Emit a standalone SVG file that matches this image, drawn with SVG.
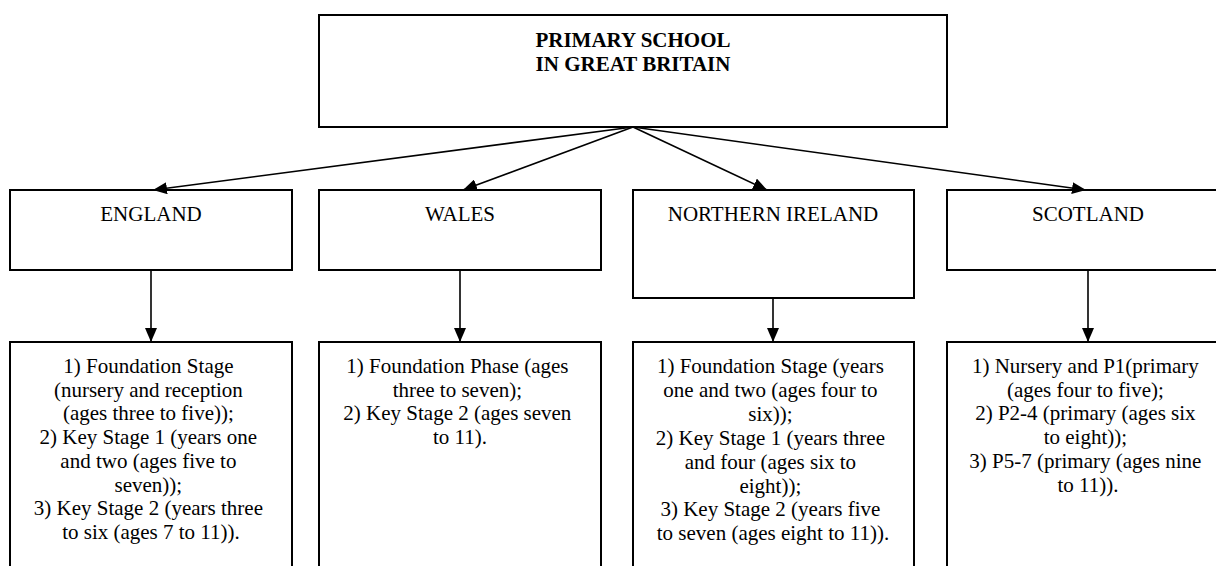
<svg xmlns="http://www.w3.org/2000/svg" width="1216" height="566" viewBox="0 0 1216 566">
<style>
.box{fill:#fff;stroke:#000;stroke-width:2}
.t{font-family:'Liberation Serif',Tinos,Times,'DejaVu Serif',serif;font-size:21px;fill:#000;text-anchor:middle}
.b{font-weight:bold}
.c{stroke:#000;stroke-width:1.6;fill:none;marker-end:url(#ah)}
</style>
<defs>
<marker id="ah" markerUnits="userSpaceOnUse" markerWidth="14" markerHeight="12" refX="14" refY="6" orient="auto">
<path d="M0,0 L14,6 L0,12 z" fill="#000"/>
</marker>
</defs>
<rect width="1216" height="566" fill="#fff"/>
<g id="root">
<rect class="box" x="319" y="15" width="628" height="112"/>
<text class="t b" x="633" y="47" font-family="Liberation Serif">PRIMARY SCHOOL</text>
<text class="t b" x="633" y="71" font-family="Liberation Serif">IN GREAT BRITAIN</text>
</g>
<g id="england">
<rect class="box" x="10" y="190" width="282" height="80"/>
<text class="t" x="151" y="221">ENGLAND</text>
</g>
<g id="wales">
<rect class="box" x="319" y="190" width="282" height="80"/>
<text class="t" x="460" y="221">WALES</text>
</g>
<g id="nireland">
<rect class="box" x="633" y="190" width="281" height="108"/>
<text class="t" x="773" y="221">NORTHERN IRELAND</text>
</g>
<g id="scotland">
<rect class="box" x="947" y="190" width="282" height="80"/>
<text class="t" x="1088" y="221">SCOTLAND</text>
</g>
<g id="england-stages">
<path class="box" d="M10,580 V342 H292 V580"/>
<text class="t" x="151" y="373">
<tspan x="151" dy="0">1) Foundation Stage</tspan>
<tspan x="151" dy="23.7">(nursery and reception</tspan>
<tspan x="151" dy="23.7">(ages three to five));</tspan>
<tspan x="151" dy="23.7">2) Key Stage 1 (years one</tspan>
<tspan x="151" dy="23.7">and two (ages five to</tspan>
<tspan x="151" dy="23.7">seven));</tspan>
<tspan x="151" dy="23.7">3) Key Stage 2 (years three</tspan>
<tspan x="151" dy="23.7">to six (ages 7 to 11)).</tspan>
</text>
</g>
<g id="wales-stages">
<path class="box" d="M319,580 V342 H601 V580"/>
<text class="t" x="460" y="373">
<tspan x="460" dy="0">1) Foundation Phase (ages</tspan>
<tspan x="460" dy="23.7">three to seven);</tspan>
<tspan x="460" dy="23.7">2) Key Stage 2 (ages seven</tspan>
<tspan x="460" dy="23.7">to 11).</tspan>
</text>
</g>
<g id="nireland-stages">
<path class="box" d="M633,580 V342 H914 V580"/>
<text class="t" x="773" y="373">
<tspan x="773" dy="0">1) Foundation Stage (years</tspan>
<tspan x="773" dy="23.9">one and two (ages four to</tspan>
<tspan x="773" dy="23.9">six));</tspan>
<tspan x="773" dy="23.9">2) Key Stage 1 (years three</tspan>
<tspan x="773" dy="23.9">and four (ages six to</tspan>
<tspan x="773" dy="23.9">eight));</tspan>
<tspan x="773" dy="23.9">3) Key Stage 2 (years five</tspan>
<tspan x="773" dy="23.9">to seven (ages eight to 11)).</tspan>
</text>
</g>
<g id="scotland-stages">
<path class="box" d="M947,580 V342 H1230"/>
<text class="t" x="1088" y="373">
<tspan x="1088" dy="0">1) Nursery and P1(primary</tspan>
<tspan x="1088" dy="23.7">(ages four to five);</tspan>
<tspan x="1088" dy="23.7">2) P2-4 (primary (ages six</tspan>
<tspan x="1088" dy="23.7">to eight));</tspan>
<tspan x="1088" dy="23.7">3) P5-7 (primary (ages nine</tspan>
<tspan x="1088" dy="23.7">to 11)).</tspan>
</text>
</g>
<g id="connectors">
<line class="c" x1="633" y1="127" x2="153" y2="190"/>
<line class="c" x1="633" y1="127" x2="463" y2="190"/>
<line class="c" x1="633" y1="127" x2="767" y2="190"/>
<line class="c" x1="633" y1="127" x2="1086" y2="190"/>
<line class="c" x1="151" y1="270" x2="151" y2="342"/>
<line class="c" x1="460" y1="270" x2="460" y2="342"/>
<line class="c" x1="773" y1="298" x2="773" y2="342"/>
<line class="c" x1="1088" y1="270" x2="1088" y2="342"/>
</g>
</svg>
